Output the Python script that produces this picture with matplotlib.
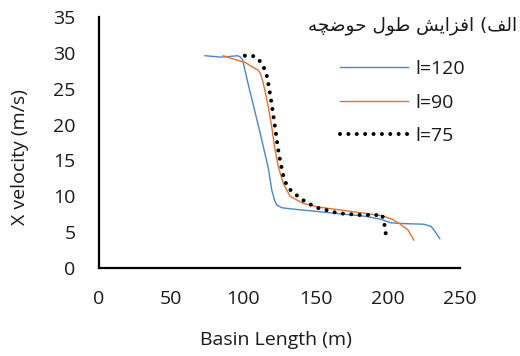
import matplotlib
matplotlib.use("Agg")
import matplotlib.pyplot as plt

# ---- data ----
x_120 = [73.4, 85, 96, 98, 99.5, 103, 106.9, 111.5, 114.5, 117.2, 119.6, 121.5, 123, 126.6, 135, 150, 170, 185, 195, 202, 210, 225, 230, 233, 236]
y_120 = [29.6, 29.4, 29.6, 29.4, 29.0, 25.9, 22.7, 18.9, 16.3, 14.0, 10.9, 9.5, 8.8, 8.4, 8.2, 7.9, 7.5, 7.2, 6.8, 6.3, 6.2, 6.1, 5.8, 5.0, 4.1]

x_90 = [86, 92, 98.7, 101, 105.6, 110.2, 112, 113.7, 115.5, 117.2, 119.6, 121.9, 124.2, 127.6, 132.3, 141.5, 151.9, 174, 196, 203, 208, 214, 218]
y_90 = [29.6, 29.2, 28.8, 28.7, 28.1, 27.6, 27.0, 25.8, 24.2, 22.5, 19.7, 16.5, 14.1, 11.8, 10.0, 9.0, 8.5, 7.9, 7.3, 6.8, 6.2, 5.3, 3.9]

x_75 = [101, 106, 109, 112, 114.5, 116.5, 118, 119.5, 121, 122.5, 124, 125.5, 127.5, 129.5, 132.5, 136.5, 141, 146, 151, 157, 162, 168, 174, 180, 186, 191, 196, 197.5, 199]
y_75 = [29.6, 29.6, 29.4, 28.7, 27.8, 26.6, 24.8, 23.0, 20.9, 18.8, 16.6, 14.9, 13.0, 11.8, 10.9, 10.2, 9.5, 8.9, 8.4, 8.1, 7.8, 7.6, 7.5, 7.4, 7.4, 7.35, 7.5, 6.3, 4.2]

labels = ["l=120", "l=90", "l=75"]
x_ticks = [0, 50, 100, 150, 200, 250]
y_ticks = [0, 5, 10, 15, 20, 25, 30, 35]
xlabel = "Basin Length (m)"
ylabel = "X velocity (m/s)"
# "الف) افزایش طول حوضچه" written in shaped Arabic presentation forms, visual order
title = ("\uFEEA\uFB7D\uFEBF\uFEEE\uFEA3 \uFEDD\uFEEE\uFEC3 "
         "\uFEB6\uFBFE\uFE8D\uFEB0\uFED3\uFE8D (\uFED2\uFEDF\uFE8D")

W, H = 520, 356
fig = plt.figure(figsize=(W / 100, H / 100), dpi=100)
ax = fig.add_axes([99 / W, 1 - 268 / H, (460 - 99) / W, (268 - 17) / H])

font = "Open Sans"
fs = 14

ax.plot(x_120, y_120, color="#4A86CF", lw=1.0, label=labels[0])
ax.plot(x_90, y_90, color="#E2722E", lw=1.0, label=labels[1])
ax.plot(x_75, y_75, color="black", lw=2.9, linestyle=(0, (0.01, 2.07)),
        dash_capstyle="round", label=labels[2])

ax.set_xlim(0, 250)
ax.set_ylim(0, 35)
ax.set_xticks(x_ticks)
ax.set_yticks(y_ticks)
ax.tick_params(length=0, labelsize=fs)
ax.tick_params(axis="y", pad=17)
ax.tick_params(axis="x", pad=16)
for t in ax.get_xticklabels() + ax.get_yticklabels():
    t.set_fontfamily(font)
    t.set_color("#1a1a1a")

for s in ["top", "right"]:
    ax.spines[s].set_visible(False)
for s in ["left", "bottom"]:
    ax.spines[s].set_linewidth(1.6)
    ax.spines[s].set_color("black")

fig.text(276 / W, 1 - 340 / H, xlabel, ha="center", va="center",
         fontsize=fs, family=font, color="#1a1a1a")
fig.text(20 / W, 1 - 157 / H, ylabel, ha="center", va="center", rotation=90,
         fontsize=fs, family=font, color="#1a1a1a")
fig.text(517 / W, 1 - 26 / H, title, ha="right", va="center",
         fontsize=13.3, family=["DejaVu Sans"], color="#1a1a1a")

leg = ax.legend(loc="upper left", bbox_to_anchor=(340 / W, 1 - 60 / H),
                bbox_transform=fig.transFigure, frameon=False,
                prop={"family": font, "size": fs},
                handlelength=3.5, handletextpad=0.36, labelspacing=0.8,
                borderpad=0, borderaxespad=0)
for t in leg.get_texts():
    t.set_color("#1a1a1a")

fig.savefig("out.png", dpi=100)
